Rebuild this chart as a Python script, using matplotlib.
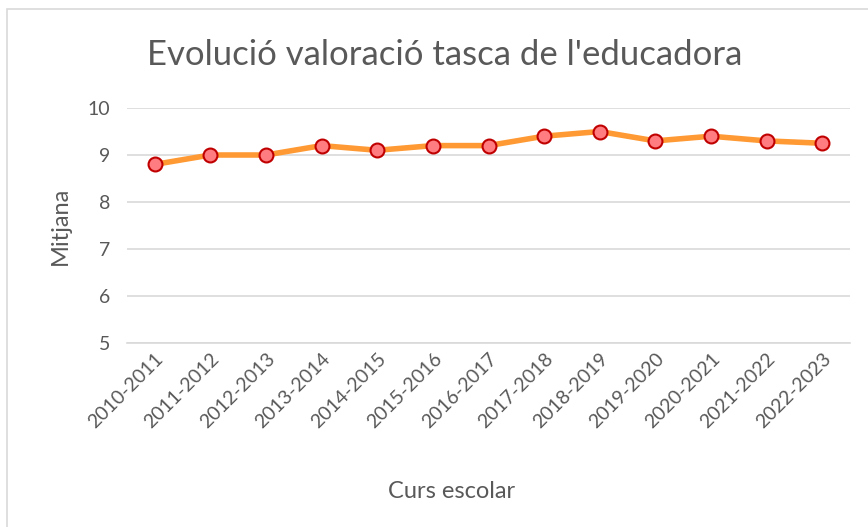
import matplotlib.pyplot as plt
from matplotlib.patches import Rectangle

cursos = ['2010-2011', '2011-2012', '2012-2013', '2013-2014', '2014-2015',
          '2015-2016', '2016-2017', '2017-2018', '2018-2019', '2019-2020',
          '2020-2021', '2021-2022', '2022-2023']
mitjana = [8.8, 9.0, 9.0, 9.2, 9.1, 9.2, 9.2, 9.4, 9.5, 9.3, 9.4, 9.3, 9.25]

plt.rcParams['font.family'] = ['Lato', 'DejaVu Sans']
gris = '#595959'

fig = plt.figure(figsize=(8.68, 5.27), dpi=100)
# chart border (Excel chart area)
fig.patches.append(Rectangle((7 / 868, -0.1), 1.2, 1 - 9 / 527 + 0.1,
                             transform=fig.transFigure, fill=False,
                             edgecolor='#d9d9d9', linewidth=1.2))

ax = fig.add_axes([127 / 868, 1 - 343 / 527, 723 / 868, 235 / 527])
x = list(range(len(cursos)))
ax.plot(x, mitjana, color='#FF9933', linewidth=4, marker='o', markersize=10,
        markerfacecolor='#FF7C80', markeredgecolor='#C00000', markeredgewidth=1.5,
        zorder=3)

ax.set_xlim(-0.5, len(cursos) - 0.5)
ax.set_ylim(5, 10)
ax.set_yticks([5, 6, 7, 8, 9, 10])
ax.grid(axis='y', color='#d9d9d9', linewidth=1.2)
ax.set_axisbelow(True)
for s in ['top', 'right', 'left']:
    ax.spines[s].set_visible(False)
ax.spines['bottom'].set_color('#d9d9d9')
ax.spines['bottom'].set_linewidth(1.2)
ax.tick_params(length=0, colors=gris, labelsize=14, pad=12)
ax.tick_params(axis='x', pad=5)
ax.set_xticks(x)
ax.set_xticklabels(cursos, rotation=45, ha='right', rotation_mode='anchor')

fig.text(445 / 868, 1 - 55 / 527, "Evolució valoració tasca de l'educadora",
         fontsize=25, color=gris, ha='center', va='center')
fig.text(452 / 868, 1 - 492 / 527, 'Curs escolar', fontsize=17, color=gris,
         ha='center', va='center')
fig.text(60 / 868, 1 - 226 / 527, 'Mitjana', fontsize=17, color=gris,
         ha='center', va='center', rotation=90)

fig.savefig('out.png', dpi=100)
